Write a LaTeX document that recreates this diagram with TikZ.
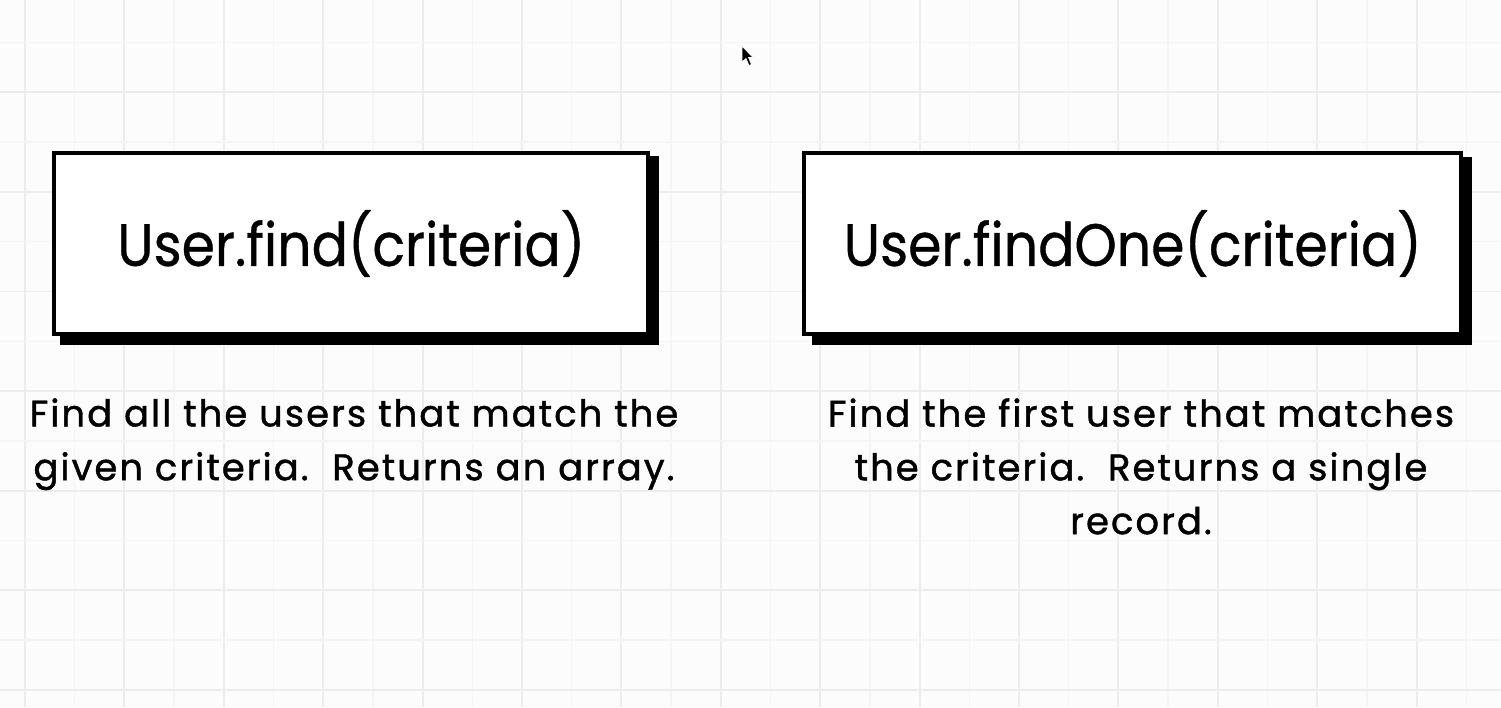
\documentclass[tikz,border=0pt]{standalone}
\usepackage{fontspec}
\setmainfont{Poppins}
\newfontfamily\titlefont[FakeStretch=0.9, FakeBold=0.6]{Poppins}
\newfontfamily\descfont[LetterSpace=5.6, FakeBold=1.2]{Poppins}
\usetikzlibrary{calc}
\definecolor{paper}{HTML}{FCFCFC}
\definecolor{gridmajor}{HTML}{EDEDED}
\definecolor{gridminor}{HTML}{F5F5F5}
\tikzset{
  methodbox/.style={draw=black, fill=white, line width=2.3pt, outer sep=0pt,
    inner sep=0pt, font=\titlefont\fontsize{34}{40}\selectfont},
  boxshadow/.style={fill=black},
  caption/.style={align=center, inner sep=0pt, font=\descfont\fontsize{21}{30.6}\selectfont},
}
\begin{document}
\begin{tikzpicture}[x=0.02cm, y=-0.02cm]
  % paper and grid
  \fill[paper] (0,0) rectangle (1501,707);
  \useasboundingbox (0,0) rectangle (1501,707);
  \foreach \i in {0,...,30} {
    \pgfmathsetmacro{\gx}{25+49.7*\i}
    \ifodd\i
      \draw[gridminor, line width=0.8pt] (\gx,0) -- (\gx,707);
    \else
      \draw[gridmajor, line width=1.1pt] (\gx,0) -- (\gx,707);
    \fi
  }
  \foreach \j in {0,...,13} {
    \pgfmathsetmacro{\gy}{42.5+49.8*\j}
    \ifodd\j
      \draw[gridmajor, line width=1.1pt] (0,\gy) -- (1501,\gy);
    \else
      \draw[gridminor, line width=0.8pt] (0,\gy) -- (1501,\gy);
    \fi
  }

  % method boxes with offset shadows
  \fill[boxshadow] (60,156) rectangle (659,345);
  \node[methodbox, minimum width=11.89cm, minimum height=3.63cm] (find)
    at (351.25,243.5) {User.find(criteria)};
  \fill[boxshadow] (812,157) rectangle (1472,345);
  \node[methodbox, minimum width=13.15cm, minimum height=3.63cm] (findone)
    at (1132.75,243.5) {User.findOne(criteria)};

  % descriptions
  \node[caption, anchor=north] (finddesc) at (354,398)
    {Find all the users that match the\\given criteria.\ \ Returns an array.};
  \node[caption, anchor=north] (findonedesc) at (1141,398)
    {Find the first user that matches\\the criteria.\ \ Returns a single\\record.};

  % mouse pointer
  \filldraw[fill=black, draw=white, line width=0.4pt]
    (742,46) -- (742,62) -- (746,58.5) -- (749,65.5) -- (751.5,64.5)
    -- (748.5,57.5) -- (753,57.5) -- cycle;
\end{tikzpicture}
\end{document}
